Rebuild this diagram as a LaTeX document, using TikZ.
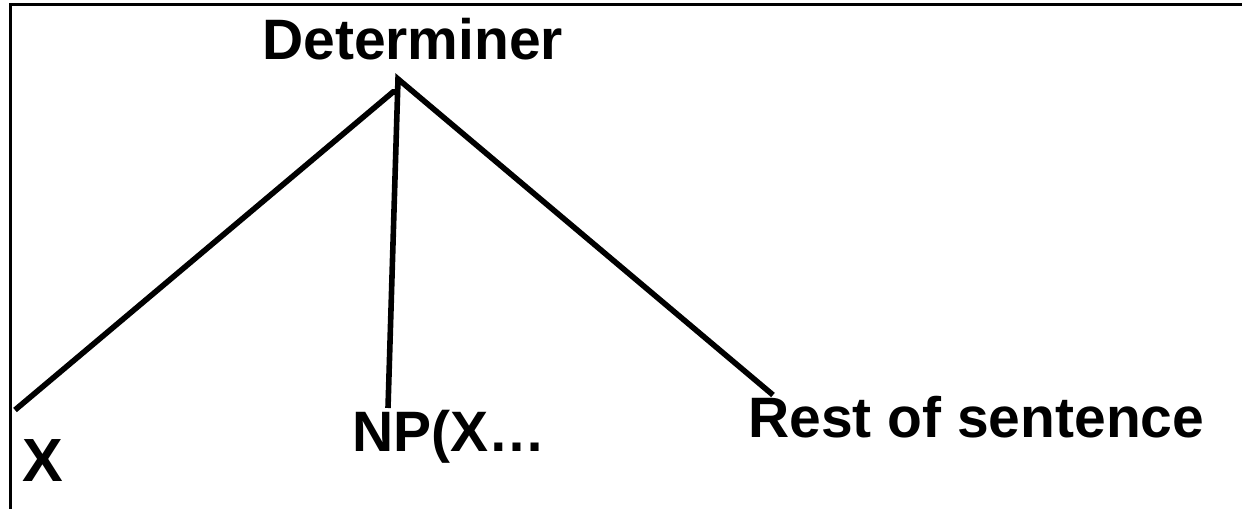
\documentclass[tikz,border=0pt]{standalone}
\usepackage{fontspec}
\setmainfont{Liberation Sans}
\begin{document}
\begin{tikzpicture}[x=1pt,y=1pt,
  lbl/.style={font=\fontsize{57}{60}\selectfont\bfseries, anchor=base west, inner sep=0pt},
  branch/.style={line width=5.6pt, line join=miter},
  frame/.style={line width=3pt}]
\useasboundingbox (0,0) rectangle (1242,509);
% open frame: top and left edges
\draw[frame] (1242,504) -- (10,504) -- (10,0);
% labels
\node[lbl] (det) at (262,449) {Determiner};
\node[lbl, font=\fontsize{61}{64}\selectfont\bfseries] (x) at (22,28) {X};
\node[lbl] (np) at (352,58) {NP(X\ldots};
\node[lbl] (rest) at (748,72) {Rest of sentence};
% branch ends
\coordinate (top) at (398,430);
\coordinate (topl) at (393,417);
\coordinate (xend) at (15,99);
\coordinate (npend) at (388,101);
\coordinate (restend) at (773,114);
% branches
\draw[branch] (xend) -- (topl) -- (top |- topl);
\draw[branch] (npend) -- (top) -- (restend);
\end{tikzpicture}
\end{document}
